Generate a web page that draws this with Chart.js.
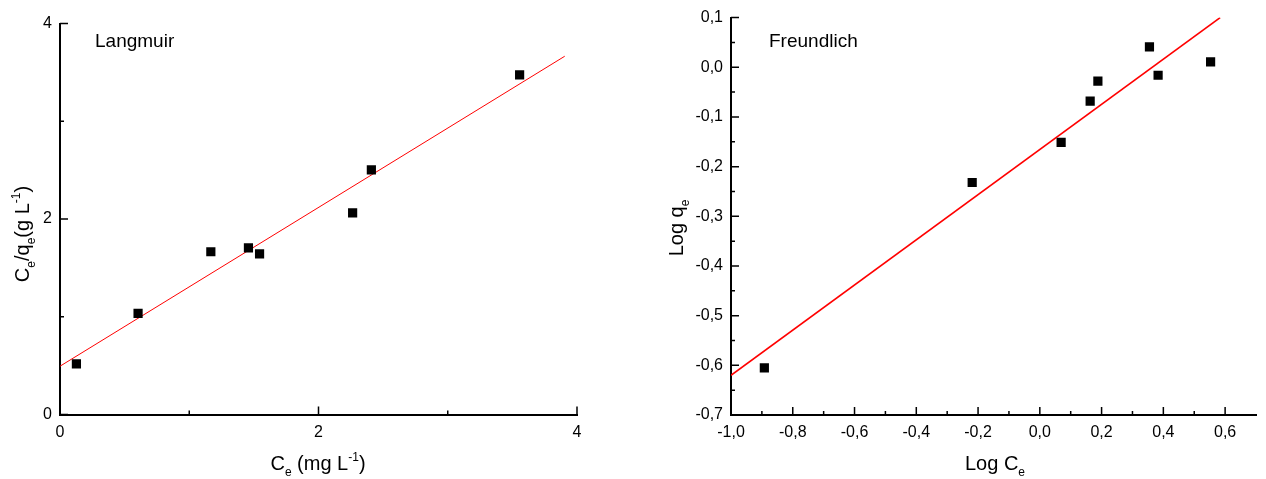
<!DOCTYPE html>
<html>
<head>
<meta charset="utf-8">
<script src="https://cdn.jsdelivr.net/npm/chart.js@4.4.1/dist/chart.umd.min.js"></script>
<style>
  html, body { margin: 0; padding: 0; background: #fff; }
  body { width: 1266px; height: 479px; position: relative; overflow: hidden; }
  .box { position: absolute; top: 0; height: 479px; }
  #left { left: 0; width: 633px; }
  #right { left: 640px; width: 626px; }
</style>
</head>
<body>
<div class="box" id="left"><canvas id="langmuir"></canvas></div>
<div class="box" id="right"><canvas id="freundlich"></canvas></div>
<script>
// Langmuir: Ce vs Ce/qe
const langmuirCe = [0.127, 0.604, 1.167, 1.458, 1.544, 2.264, 2.409, 3.556]
const langmuirRatio = [0.518, 1.034, 1.665, 1.705, 1.643, 2.063, 2.503, 3.474]
const langmuirFitX = [0, 3.905]
const langmuirFitY = [0.494, 3.665]

// Freundlich: Log Ce vs Log qe
const freundlichLogCe = [-0.892, -0.219, 0.069, 0.163, 0.188, 0.355, 0.383, 0.553]
const freundlichLogQe = [-0.605, -0.232, -0.151, -0.068, -0.028, 0.041, -0.016, 0.011]
const freundlichFitX = [-1.0, 0.584]
const freundlichFitY = [-0.62, 0.1]

const FONT = '"Liberation Sans", Arial, sans-serif'

function pairs(xs, ys) {
  return xs.map((x, i) => ({ x, y: ys[i] }))
}

function commaLabel(v) {
  if (Math.abs(v) < 1e-9) v = 0
  return v.toFixed(1).replace('.', ',')
}

// text with sub / superscripts, centred on (cx, cy)
function drawRich(ctx, parts, cx, cy, angle) {
  const fontOf = (p) => (p.sub || p.sup ? '12px ' : '20px ') + FONT
  ctx.save()
  ctx.translate(cx, cy)
  ctx.rotate(angle)
  ctx.fillStyle = '#000'
  ctx.textAlign = 'left'
  ctx.textBaseline = 'alphabetic'
  let total = 0
  parts.forEach((p) => {
    ctx.font = fontOf(p)
    total += ctx.measureText(p.t).width
  })
  let x = -total / 2
  parts.forEach((p) => {
    ctx.font = fontOf(p)
    const dy = p.sub ? 6 : p.sup ? -9 : 0
    ctx.fillText(p.t, x, 7 + dy)
    x += ctx.measureText(p.t).width
  })
  ctx.restore()
}

// ticks pointing into the plot, minor ticks halfway between the major ones
const innerTicks = {
  id: 'innerTicks',
  afterDraw(chart, args, opts) {
    const ctx = chart.ctx
    const { left, bottom } = chart.chartArea
    const xs = chart.scales.x
    const ys = chart.scales.y
    const mids = (vals) => vals.slice(1).map((v, i) => (v + vals[i]) / 2)
    const xMajor = xs.ticks.map((t) => t.value)
    const yMajor = ys.ticks.map((t) => t.value)
    ctx.save()
    ctx.strokeStyle = '#000'
    ctx.lineWidth = 1.5
    ctx.beginPath()
    xMajor.forEach((v) => { const p = xs.getPixelForValue(v); ctx.moveTo(p, bottom); ctx.lineTo(p, bottom - 8) })
    mids(xMajor).forEach((v) => { const p = xs.getPixelForValue(v); ctx.moveTo(p, bottom); ctx.lineTo(p, bottom - 4) })
    yMajor.forEach((v) => { const p = ys.getPixelForValue(v); ctx.moveTo(left, p); ctx.lineTo(left + 8, p) })
    mids(yMajor).forEach((v) => { const p = ys.getPixelForValue(v); ctx.moveTo(left, p); ctx.lineTo(left + 4, p) })
    ctx.stroke()

    ctx.fillStyle = '#000'
    ctx.font = '19px ' + FONT
    ctx.textAlign = 'left'
    ctx.textBaseline = 'middle'
    ctx.fillText(opts.label, left + opts.labelDx, opts.labelY)

    drawRich(ctx, opts.xTitle, opts.xTitlePos[0], opts.xTitlePos[1], 0)
    drawRich(ctx, opts.yTitle, opts.yTitlePos[0], opts.yTitlePos[1], -Math.PI / 2)
    ctx.restore()
  },
}

function makeChart(id, cfg) {
  const ctx = document.getElementById(id).getContext('2d')
  return new Chart(ctx, {
    type: 'scatter',
    data: {
      datasets: [
        {
          data: cfg.points,
          pointStyle: 'rect',
          pointRadius: 6.5,
          pointBackgroundColor: '#000',
          pointBorderColor: '#000',
          pointBorderWidth: 0,
          showLine: false,
        },
        {
          data: cfg.fit,
          showLine: true,
          pointRadius: 0,
          borderColor: '#ff0000',
          borderWidth: cfg.fitWidth,
          fill: false,
        },
      ],
    },
    options: {
      responsive: true,
      maintainAspectRatio: false,
      animation: false,
      events: [],
      layout: { padding: cfg.padding },
      plugins: {
        legend: { display: false },
        tooltip: { enabled: false },
        innerTicks: cfg.text,
      },
      scales: {
        x: {
          type: 'linear',
          min: cfg.x.min,
          max: cfg.x.max,
          afterFit: (s) => { s.height = cfg.x.height },
          grid: { display: false, drawTicks: false },
          border: { display: true, color: '#000', width: 2 },
          ticks: {
            stepSize: cfg.x.step,
            includeBounds: false,
            padding: 8,
            color: '#000',
            font: { family: FONT, size: 16 },
            maxRotation: 0,
            callback: cfg.x.format,
          },
        },
        y: {
          type: 'linear',
          min: cfg.y.min,
          max: cfg.y.max,
          afterFit: (s) => { s.width = cfg.y.width },
          grid: { display: false, drawTicks: false },
          border: { display: true, color: '#000', width: 2 },
          ticks: {
            stepSize: cfg.y.step,
            includeBounds: false,
            padding: 8,
            color: '#000',
            font: { family: FONT, size: 16 },
            callback: cfg.y.format,
          },
        },
      },
    },
    plugins: [innerTicks],
  })
}

makeChart('langmuir', {
  points: pairs(langmuirCe, langmuirRatio),
  fit: pairs(langmuirFitX, langmuirFitY),
  fitWidth: 1,
  padding: { left: 0, top: 23.5, right: 56, bottom: 0 },
  x: { min: 0, max: 4, step: 2, height: 64.5, format: (v) => String(v) },
  y: { min: 0, max: 4, step: 2, width: 60, format: (v) => String(v) },
  text: {
    label: 'Langmuir',
    labelDx: 35,
    labelY: 42,
    xTitle: [{ t: 'C' }, { t: 'e', sub: true }, { t: ' (mg L' }, { t: '-1', sup: true }, { t: ')' }],
    xTitlePos: [318, 463],
    yTitle: [{ t: 'C' }, { t: 'e', sub: true }, { t: '/q' }, { t: 'e', sub: true }, { t: '(g L' }, { t: '-1', sup: true }, { t: ')' }],
    yTitlePos: [22, 234],
  },
})

makeChart('freundlich', {
  points: pairs(freundlichLogCe, freundlichLogQe),
  fit: pairs(freundlichFitX, freundlichFitY),
  fitWidth: 1.6,
  padding: { left: 0, top: 15, right: 10, bottom: 0 },
  x: { min: -1, max: 0.7, step: 0.2, height: 64, format: commaLabel },
  y: { min: -0.7, max: 0.1, step: 0.1, width: 91, format: commaLabel },
  text: {
    label: 'Freundlich',
    labelDx: 38,
    labelY: 42,
    xTitle: [{ t: 'Log C' }, { t: 'e', sub: true }],
    xTitlePos: [355, 463],
    yTitle: [{ t: 'Log q' }, { t: 'e', sub: true }],
    yTitlePos: [36, 228],
  },
})
</script>
</body>
</html>
